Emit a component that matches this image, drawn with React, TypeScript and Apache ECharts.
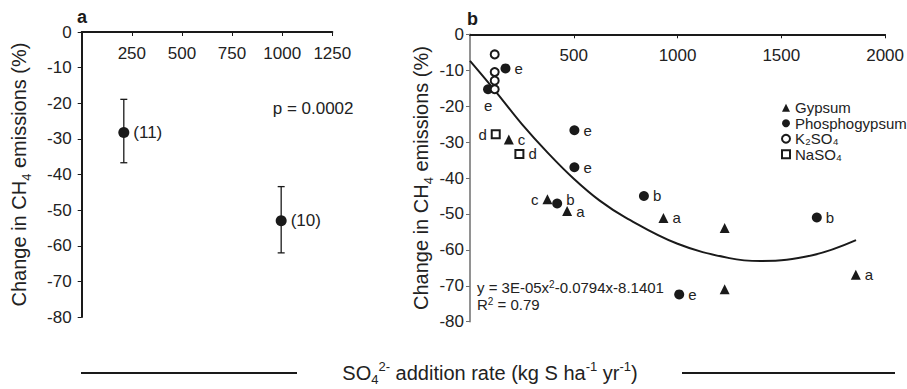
import React, { useEffect, useRef } from "react";
import * as echarts from "echarts";

// Panel a: mean change with error bars
const aRate = [210, 995];
const aChange = [-28.2, -53.0];
const aLow = [-36.7, -62.0];
const aHigh = [-18.9, -43.4];
const aCount = ["(11)", "(10)"];

// Panel b: individual studies
const gypsumRate = [187, 373, 468, 932, 1227, 1227, 1859];
const gypsumChange = [-29.3, -45.9, -49.2, -51.1, -53.9, -71.0, -66.9];
const gypsumTag = ["c", "c", "a", "a", "", "", "a"];

const phosphoRate = [87, 171, 420, 503, 503, 838, 1008, 1671];
const phosphoChange = [-15.3, -9.5, -47.1, -26.7, -37.0, -45.0, -72.4, -51.0];
const phosphoTag = ["e", "e", "b", "e", "e", "b", "e", "b"];

const k2so4Rate = [119, 119, 119, 119];
const k2so4Change = [-5.6, -10.5, -12.9, -15.3];

const naso4Rate = [124, 238];
const naso4Change = [-27.8, -33.3];
const naso4Tag = ["d", "d"];

// Fitted quadratic trend
const trendRate = [0, 125, 250, 375, 500, 625, 750, 1000, 1250, 1400, 1650, 1860];
const trendChange = [-7.4, -16.0, -25.0, -33.0, -40.2, -46.3, -51.0, -58.3, -62.3, -63.1, -61.5, -57.3];

const xTicksA = { min: 0, max: 1250, interval: 250 };
const xTicksB = { min: 0, max: 2000, interval: 500 };
const yTicks = { min: -80, max: 0, interval: 10 };

const seriesNames = ["Gypsum", "Phosphogypsum", "K₂SO₄", "NaSO₄"];

const INK = "#1a1a1a";
const TXT = "#222";
const FONT = "'Liberation Sans', Arial, Helvetica, sans-serif";

export default function App() {
  const ref = useRef<HTMLDivElement>(null);

  useEffect(() => {
    if (!ref.current) return;
    const chart = echarts.init(ref.current, null, { renderer: "svg" });

    const leftLabel = { gypsum: [1], naso4: [0] };
    const belowLabel = { phospho: [0] };

    const mkLabel = (text: string, pos: string, offset?: number[]) => ({
      show: text !== "",
      formatter: text,
      position: pos,
      distance: 4,
      fontSize: 15,
      color: TXT,
      offset: offset || [0, 0],
    });

    const gypsumData = gypsumRate.map((x, i) => ({
      value: [x, gypsumChange[i]],
      label: mkLabel(gypsumTag[i], leftLabel.gypsum.includes(i) ? "left" : "right"),
    }));
    const phosphoData = phosphoRate.map((x, i) => ({
      value: [x, phosphoChange[i]],
      label: mkLabel(
        phosphoTag[i],
        belowLabel.phospho.includes(i) ? "bottom" : "right",
        i === 2 ? [0, -4] : [0, 0]
      ),
    }));
    const naso4Data = naso4Rate.map((x, i) => ({
      value: [x, naso4Change[i]],
      label: mkLabel(naso4Tag[i], leftLabel.naso4.includes(i) ? "left" : "right"),
    }));
    const k2so4Data = k2so4Rate.map((x, i) => [x, k2so4Change[i]]);
    const trendData = trendRate.map((x, i) => [x, trendChange[i]]);
    const aData = aRate.map((x, i) => ({
      value: [x, aChange[i]],
      label: {
        show: true,
        formatter: aCount[i],
        position: "right",
        distance: 4,
        fontSize: 17,
        color: TXT,
      },
    }));
    const aErr = aRate.map((x, i) => [x, aLow[i], aHigh[i]]);

    const xAxisBase = (gridIndex: number, ticks: any) => ({
      gridIndex,
      type: "value",
      position: "top",
      ...ticks,
      axisLine: { show: true, onZero: false, lineStyle: { color: INK, width: 2 } },
      axisTick: { show: true, inside: true, length: 4, lineStyle: { color: INK, width: 1 } },
      axisLabel: {
        inside: true,
        margin: 13,
        fontSize: 17,
        color: TXT,
        showMinLabel: false,
        formatter: (v: number) => String(v),
      },
      splitLine: { show: false },
    });

    const nameRich = {
      sub: { fontSize: 13, lineHeight: 13, verticalAlign: "bottom", color: TXT },
    };

    const yAxisBase = (gridIndex: number, lineColor: string, lineWidth: number, margin: number, nameGap: number) => ({
      gridIndex,
      type: "value",
      ...yTicks,
      axisLine: { show: true, onZero: false, lineStyle: { color: lineColor, width: lineWidth } },
      axisTick: { show: true, inside: false, length: 4, lineStyle: { color: lineColor, width: 1 } },
      axisLabel: { margin, fontSize: 17, color: TXT, formatter: (v: number) => String(v) },
      splitLine: { show: false },
      name: "Change in CH{sub|4} emissions (%)",
      nameLocation: "middle",
      nameRotate: 90,
      nameGap,
      nameTextStyle: { fontSize: 20, lineHeight: 28, color: TXT, rich: nameRich },
    });

    const solid = { color: INK, opacity: 1 };

    const option: any = {
      animation: false,
      backgroundColor: "#ffffff",
      textStyle: { fontFamily: FONT },
      grid: [
        { left: 81.7, top: 32, width: 250.6, height: 285 },
        { left: 470, top: 34.3, width: 420, height: 287.4 },
      ],
      xAxis: [xAxisBase(0, xTicksA), xAxisBase(1, xTicksB)],
      yAxis: [yAxisBase(0, INK, 2, 10, 48.5), yAxisBase(1, "#6e6e6e", 1.5, 6, 35)],
      legend: {
        data: seriesNames,
        orient: "vertical",
        left: 776,
        top: 95,
        itemWidth: 8,
        itemHeight: 8,
        itemGap: 0,
        selectedMode: false,
        itemStyle: { borderWidth: 1 },
        textStyle: { fontSize: 15, lineHeight: 15.5, color: TXT },
      },
      graphic: [
        { type: "text", left: 77, top: 8, style: { text: "a", fontSize: 18, fontWeight: "bold", fill: INK, fontFamily: FONT } },
        { type: "text", left: 467, top: 10, style: { text: "b", fontSize: 18, fontWeight: "bold", fill: INK, fontFamily: FONT } },
        { type: "text", left: 272.7, top: 100, style: { text: "p = 0.0002", fontSize: 17, fill: TXT, fontFamily: FONT } },
        {
          type: "text",
          left: 477,
          top: 279,
          style: {
            text: "y = 3E-05x{sup|2}-0.0794x-8.1401\nR{sup|2} = 0.79",
            fontSize: 15,
            lineHeight: 17,
            fill: TXT,
            fontFamily: FONT,
            rich: { sup: { fontSize: 10, lineHeight: 10, verticalAlign: "top", fill: TXT } },
          },
        },
        {
          type: "text",
          x: 490,
          y: 372.5,
          style: {
            text: "SO{sub|4}{sup|2-} addition rate (kg S ha{sup|-1} yr{sup|-1})",
            fontSize: 20,
            lineHeight: 26,
            fill: TXT,
            fontFamily: FONT,
            align: "center",
            verticalAlign: "middle",
            rich: {
              sub: { fontSize: 13, lineHeight: 13, verticalAlign: "bottom", fill: TXT },
              sup: { fontSize: 13, lineHeight: 15, verticalAlign: "top", fill: TXT },
            },
          },
        },
        { type: "line", shape: { x1: 81, y1: 373, x2: 297, y2: 373 }, style: { stroke: INK, lineWidth: 2 } },
        { type: "line", shape: { x1: 682, y1: 373, x2: 895, y2: 373 }, style: { stroke: INK, lineWidth: 2 } },
      ],
      series: [
        {
          type: "custom",
          xAxisIndex: 0,
          yAxisIndex: 0,
          data: aErr,
          renderItem: (params: any, api: any) => {
            const x = api.value(0);
            const lo = api.coord([x, api.value(1)]);
            const hi = api.coord([x, api.value(2)]);
            const cap = 3.5;
            const st = { stroke: INK, lineWidth: 1.3 };
            return {
              type: "group",
              children: [
                { type: "line", shape: { x1: lo[0], y1: lo[1], x2: hi[0], y2: hi[1] }, style: st },
                { type: "line", shape: { x1: lo[0] - cap, y1: lo[1], x2: lo[0] + cap, y2: lo[1] }, style: st },
                { type: "line", shape: { x1: hi[0] - cap, y1: hi[1], x2: hi[0] + cap, y2: hi[1] }, style: st },
              ],
            };
          },
          z: 2,
        },
        {
          type: "scatter",
          xAxisIndex: 0,
          yAxisIndex: 0,
          symbol: "circle",
          symbolSize: 11,
          itemStyle: solid,
          data: aData,
          z: 3,
        },
        {
          type: "line",
          xAxisIndex: 1,
          yAxisIndex: 1,
          data: trendData,
          smooth: 0.4,
          showSymbol: false,
          lineStyle: { color: INK, width: 2 },
          z: 1,
        },
        {
          name: seriesNames[0],
          type: "scatter",
          xAxisIndex: 1,
          yAxisIndex: 1,
          symbol: "triangle",
          symbolSize: 10,
          itemStyle: solid,
          data: gypsumData,
          z: 3,
        },
        {
          name: seriesNames[1],
          type: "scatter",
          xAxisIndex: 1,
          yAxisIndex: 1,
          symbol: "circle",
          symbolSize: 10,
          itemStyle: solid,
          data: phosphoData,
          z: 3,
        },
        {
          name: seriesNames[2],
          type: "scatter",
          xAxisIndex: 1,
          yAxisIndex: 1,
          symbol: "emptyCircle",
          symbolSize: 8,
          itemStyle: { color: INK, opacity: 1, borderWidth: 1 },
          data: k2so4Data,
          z: 3,
        },
        {
          name: seriesNames[3],
          type: "scatter",
          xAxisIndex: 1,
          yAxisIndex: 1,
          symbol: "emptyRect",
          symbolSize: 8,
          itemStyle: { color: INK, opacity: 1, borderWidth: 1 },
          data: naso4Data,
          z: 3,
        },
      ],
    };

    chart.setOption(option);
    return () => chart.dispose();
  }, []);

  return (
    <div
      ref={ref}
      style={{ position: "absolute", left: 0, top: 0, width: 907, height: 389, background: "#fff" }}
    />
  );
}
